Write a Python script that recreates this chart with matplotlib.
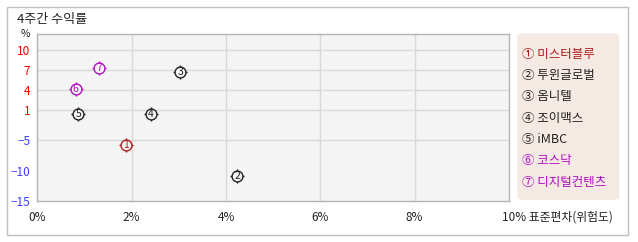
import numpy as np
import matplotlib
matplotlib.use("Agg")
import matplotlib.pyplot as plt
from matplotlib.patches import FancyBboxPatch, Rectangle

plt.rcParams['font.family'] = ['Noto Sans CJK KR', 'DejaVu Sans']

# data
names = ['미스터블루', '투윈글로벌', '옴니텔', '조이맥스', 'iMBC', '코스닥', '디지털컨텐츠']
marks = ['①', '②', '③', '④', '⑤', '⑥', '⑦']
std_dev = [1.89, 4.24, 3.03, 2.41, 0.87, 0.81, 1.31]      # 표준편차 (%)
returns = [-5.87, -10.95, 6.75, 0.32, 0.2, 4.24, 7.3]      # 4주간 수익률 (%)
colors = ['#b01c1c', '#222222', '#222222', '#222222', '#222222', '#b010c0', '#b010c0']

x_ticks = [0, 2, 4, 6, 8]
y_ticks = [10, 7, 4, 1, -5, -10, -15]
y_grid = [10, 7, 4, 1, -5]

# the y axis is not linear in the original, so use a piecewise scale
scale_vals = [-15, -5, 1, 10, 12.4]
scale_pos = [0, 61, 90.7, 151, 167]

def fwd(v):
    return np.interp(v, scale_vals, scale_pos)

def inv(p):
    return np.interp(p, scale_pos, scale_vals)

W, H = 638, 242
fig = plt.figure(figsize=(W / 100, H / 100), dpi=100)

# outer border
fig.patches.append(Rectangle((7 / W, 1 - 235 / H), (628 - 7) / W, (235 - 7) / H,
                             transform=fig.transFigure, fill=False,
                             edgecolor='#c0c0c0', linewidth=1))

ax = fig.add_axes([37.3 / W, 1 - 201 / H, (509 - 37.3) / W, (201 - 34) / H])
ax.set_yscale('function', functions=(fwd, inv))
ax.set_xlim(0, 10)
ax.set_ylim(-15, 12.4)
ax.set_facecolor('#f4f4f4')
for s in ax.spines.values():
    s.set_color('#b4b4b4')
    s.set_linewidth(1)

for g in y_grid:
    ax.axhline(g, color='#d9d9d9', linewidth=1, zorder=1)
for g in x_ticks[1:]:
    ax.axvline(g, color='#d9d9d9', linewidth=1, zorder=1)

ax.set_xticks(x_ticks)
ax.set_xticklabels([f'{t}%' for t in x_ticks], fontsize=8.5, color='#222222')
ax.set_yticks(y_ticks)
ax.set_yticklabels([str(t).replace('-', '\u2212') for t in y_ticks], fontsize=8.5)
for lbl, t in zip(ax.get_yticklabels(), y_ticks):
    lbl.set_color('#ff0000' if t > 0 else '#3c3cff')
ax.tick_params(length=0, pad=5)
ax.tick_params(axis='x', pad=7)
ax.minorticks_off()

ax.annotate('10% 표준편차(위험도)', xy=(10, -15), xytext=(-5, -7),
            textcoords='offset points', ha='left', va='top',
            fontsize=8.5, color='#222222', annotation_clip=False)

# markers: ticked circle with the number inside
for i, (x, y, c) in enumerate(zip(std_dev, returns, colors)):
    ax.plot(x, y, marker='+', markersize=9.6, color=c, mew=1, zorder=3)
    ax.plot(x, y, marker='o', markersize=7.8, markerfacecolor='#f4f4f4',
            markeredgecolor=c, mew=1, zorder=4)
    ax.text(x, y, str(i + 1), ha='center', va='center',
            fontsize=7.5, color=c, zorder=5)

fig.text(17 / W, 1 - 20 / H, '4주간 수익률', fontsize=9.4, color='#222222',
         ha='left', va='center')
fig.text(25 / W, 1 - 34 / H, '%', fontsize=7.5, color='#222222',
         ha='center', va='center')

# legend box
fig.patches.append(FancyBboxPatch((517.3 / W, 1 - 200 / H), (619.3 - 517.3) / W,
                                  (200 - 33.3) / H,
                                  boxstyle='round,pad=0,rounding_size=0.012',
                                  transform=fig.transFigure,
                                  facecolor='#f5e9e3', edgecolor='none'))
for i, (m, n, c) in enumerate(zip(marks, names, colors)):
    fig.text(521.5 / W, 1 - (54.3 + i * 21.3) / H, m + ' ' + n, fontsize=9,
             color=c, ha='left', va='center')

fig.savefig('out.png', dpi=100)
